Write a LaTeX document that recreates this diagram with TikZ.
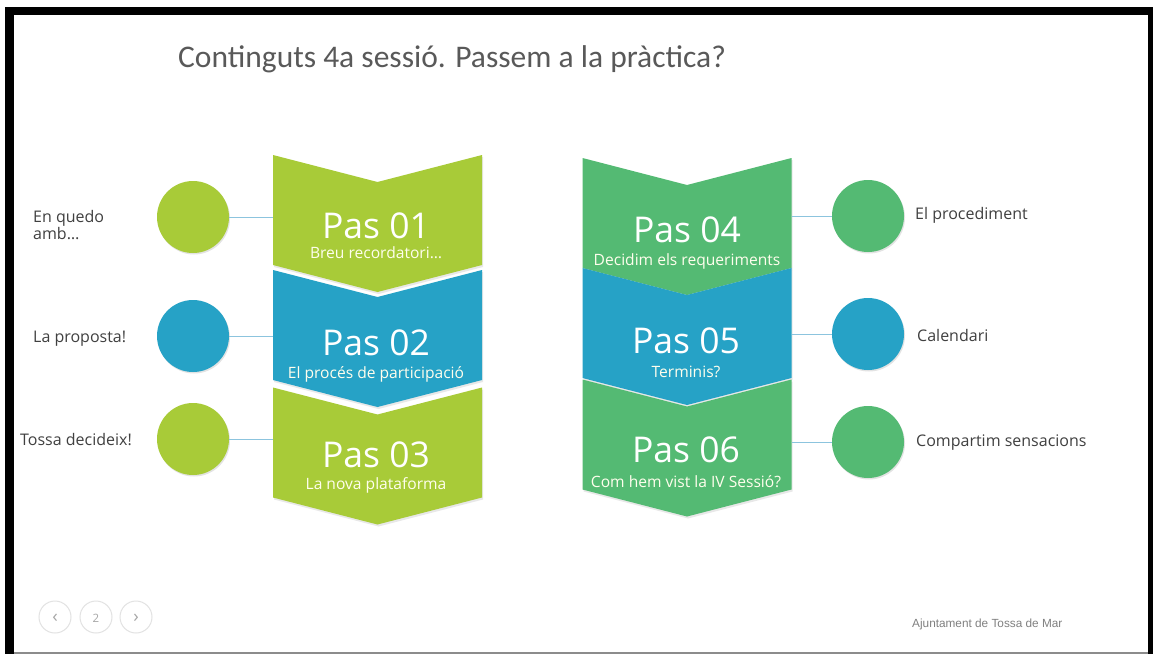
\documentclass[tikz,border=0pt]{standalone}
\usepackage{fontspec}
\setmainfont{Open Sans}
\newfontfamily\titlefont{Carlito}
\newfontfamily\footfont{Liberation Sans}
\usetikzlibrary{shadows,calc}
\definecolor{cLime}{RGB}{168,203,56}
\definecolor{cBlue}{RGB}{38,162,198}
\definecolor{cGreen}{RGB}{84,186,115}
\definecolor{linkc}{RGB}{140,196,222}
\definecolor{labc}{RGB}{64,64,64}
\definecolor{titc}{RGB}{89,89,89}
\definecolor{navc}{RGB}{226,226,226}
\newcommand\mkchev[5]{% name, x centre, top, height, colour
  \node[chev] (#1) at ({#2},{#3+#4/2}) {};
  \fill[#5, chevshadow] (#1.north west) -- ([yshift=-27pt]#1.north) -- (#1.north east)
    -- (#1.south east) -- ([yshift=-27pt]#1.south) -- (#1.south west) -- cycle;
}
\begin{document}
\begin{tikzpicture}[x=1pt,y=-1pt,
  chev/.style={minimum width=209pt, minimum height=#1pt, inner sep=0pt, outer sep=0pt},
  chev/.default=110,
  chevshadow/.style={drop shadow={opacity=0.18, shadow xshift=1pt, shadow yshift=-2pt}},
  dot/.style={circle, minimum size=72pt, inner sep=0pt, outer sep=0pt,
    drop shadow={opacity=0.22, shadow xshift=1pt, shadow yshift=-1.5pt}},
  link/.style={draw=linkc, line width=0.8pt},
  pas/.style={text=white, font=\fontsize{35.5}{40}\selectfont, anchor=base, inner sep=0pt},
  sub/.style={text=white!93!yellow, font=\fontsize{15.6}{18}\selectfont, anchor=base, inner sep=0pt},
  side/.style={text=labc, font=\fontsize{16}{17}\selectfont, inner sep=0pt, align=left},
  navdot/.style={circle, draw=navc, line width=1pt, minimum size=32pt, inner sep=0pt},
  navtxt/.style={text=black!35, font=\fontsize{18}{20}\selectfont, inner sep=0pt}
]
\useasboundingbox (0,0) rectangle (1153,654);
% frame
\fill[white] (0,0) rectangle (1153,654);
\fill[black] (5,7) rectangle (1153,654);
\fill[white] (14,15) rectangle (1148,652);
\fill[black!45] (14,652) rectangle (1148,654);

% title
\node[anchor=base west, inner sep=0pt, text=titc, font=\titlefont\fontsize{31.5}{36}\selectfont]
  (title) at (178,67) {Continguts 4a sessió. Passem a la pràctica?};

% chevrons, left column
\mkchev{p1}{377.5}{155}{110}{cLime}
\mkchev{p2}{377.5}{272}{106}{cBlue}
\mkchev{p3}{377.5}{387}{111}{cLime}
% chevrons, right column
\mkchev{p4}{687}{158}{110}{cGreen}
\mkchev{p5}{687}{271}{104}{cBlue}
\mkchev{p6}{687}{380}{109}{cGreen}

% chevron texts
\node[pas] (p1t) at (376,238) {Pas 01};
\node[sub] (p1s) at (376,258) {Breu recordatori…};
\node[pas] (p2t) at (376,355) {Pas 02};
\node[sub] (p2s) at (376,378) {El procés de participació};
\node[pas] (p3t) at (376,467) {Pas 03};
\node[sub] (p3s) at (376,489) {La nova plataforma};
\node[pas] (p4t) at (687,242) {Pas 04};
\node[sub] (p4s) at (687,265) {Decidim els requeriments};
\node[pas] (p5t) at (686,353) {Pas 05};
\node[sub] (p5s) at (686,377) {Terminis?};
\node[pas] (p6t) at (686,462) {Pas 06};
\node[sub] (p6s) at (686,487) {Com hem vist la IV Sessió?};

% circles
\node[dot, fill=cLime] (c1) at (193,217) {};
\node[dot, fill=cBlue] (c2) at (193,336) {};
\node[dot, fill=cLime] (c3) at (193,439) {};
\node[dot, fill=cGreen] (c4) at (868,216) {};
\node[dot, fill=cBlue] (c5) at (868,334) {};
\node[dot, fill=cGreen] (c6) at (868,442) {};

% connectors
\draw[link] (c1) -- (c1 -| p1.west);
\draw[link] (c2) -- (c2 -| p2.west);
\draw[link] (c3) -- (c3 -| p3.west);
\draw[link] (c4 -| p4.east) -- (c4);
\draw[link] (c5 -| p5.east) -- (c5);
\draw[link] (c6 -| p6.east) -- (c6);

% side labels
\node[side, anchor=west] (l1) at (33,225.5) {En quedo\\amb…};
\node[side, anchor=base west] (l2) at (33,342) {La proposta!};
\node[side, anchor=base west] (l3) at (20,445) {Tossa decideix!};
\node[side, anchor=base west] (l4) at (915,219) {El procediment};
\node[side, anchor=base west] (l5) at (917,341) {Calendari};
\node[side, anchor=base west] (l6) at (916,446) {Compartim sensacions};

% navigation
\node[navdot] (n1) at (55,617) {};
\node[navdot] (n2) at (96,617) {};
\node[navdot] (n3) at (136,617) {};
\node[navtxt] (n1t) at ([yshift=-1pt]n1) {‹};
\node[navtxt, font=\fontsize{11.5}{13}\selectfont] (n2t) at ([yshift=-1pt]n2) {2};
\node[navtxt] (n3t) at ([yshift=-1pt]n3) {›};

% footer
\node[anchor=base west, inner sep=0pt, text=black!50, font=\footfont\fontsize{11.8}{14}\selectfont]
  (foot) at (912,627) {Ajuntament de Tossa de Mar};
\end{tikzpicture}
\end{document}
